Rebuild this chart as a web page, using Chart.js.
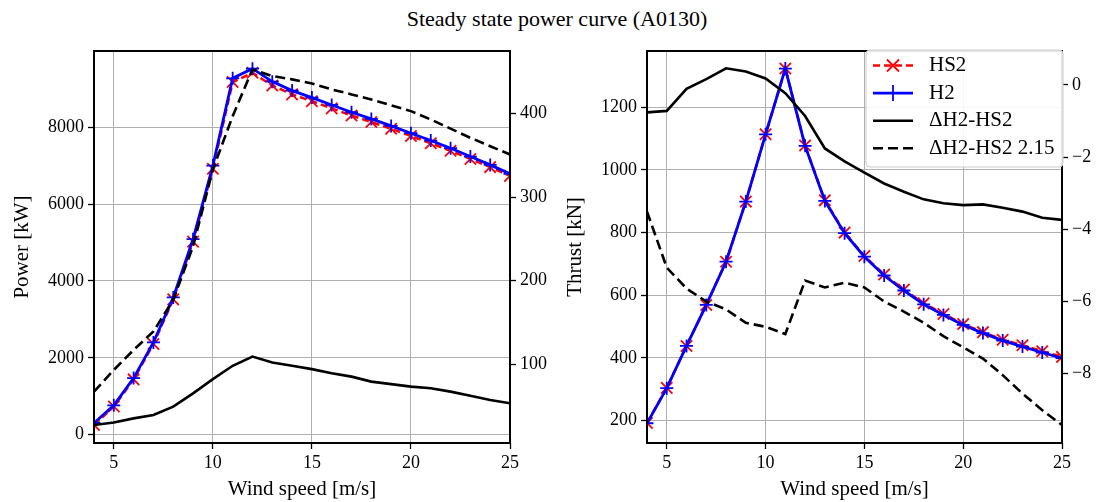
<!DOCTYPE html>
<html>
<head>
<meta charset="utf-8">
<title>Steady state power curve (A0130)</title>
<script src="https://cdn.jsdelivr.net/npm/chart.js@4"></script>
<style>
  body { margin: 0; background: #fff; }
  #fig { position: relative; width: 1103px; height: 502px; overflow: hidden; }
  #titre { position: absolute; left: 0; width: 1114px; top: 6px; line-height: 24px; text-align: center;
           font: 22px "Liberation Serif", serif; color: #000; }
  canvas { position: absolute; top: 0; }
</style>
</head>
<body>
<div id="fig">
  <div id="titre">Steady state power curve (A0130)</div>
  <canvas id="graphPower" width="555" height="502" style="left:0"></canvas>
  <canvas id="graphThrust" width="548" height="502" style="left:555px"></canvas>
</div>
<script>
/* DONNEES */
var vent = [4, 5, 6, 7, 8, 9, 10, 11, 12, 13, 14, 15, 16, 17, 18, 19, 20, 21, 22, 23, 24, 25];

var puissanceHS2 = [250, 733, 1438, 2361, 3521, 5023, 6921, 9176, 9416, 9085, 8855, 8677, 8491, 8305, 8138, 7959, 7772, 7583, 7387, 7175, 6963, 6734];
var puissanceH2 = [303, 763, 1473, 2400, 3570, 5088, 7003, 9274, 9525, 9187, 8953, 8771, 8580, 8390, 8217, 8035, 7845, 7654, 7454, 7237, 7020, 6787];
var deltaPuissance = [27, 30, 35, 39, 49, 65, 82, 98, 109, 102, 98, 94, 89, 85, 79, 76, 73, 71, 67, 62, 57, 53];
var deltaPuissance215 = [67, 93, 117, 139, 177, 241, 333, 397, 453, 445, 441, 436, 429, 423, 417, 410, 403, 393, 382, 371, 361, 351];

var pousseeHS2 = [192, 304, 438, 569, 707, 899, 1114, 1324, 1078, 903, 800, 725, 666, 618, 574, 540, 508, 482, 458, 440, 421, 403];
var pousseeH2 = [191, 303, 438, 569, 707, 899, 1114, 1324, 1077, 901, 798, 723, 663, 615, 571, 537, 505, 479, 455, 436, 417, 399];
var deltaPoussee = [-0.76, -0.72, -0.11, 0.16, 0.46, 0.37, 0.18, -0.23, -0.86, -1.76, -2.12, -2.43, -2.73, -2.96, -3.17, -3.28, -3.33, -3.31, -3.40, -3.51, -3.68, -3.74];
var deltaPoussee215 = [-3.51, -5.06, -5.64, -6.0, -6.22, -6.59, -6.70, -6.90, -5.42, -5.61, -5.48, -5.61, -6.0, -6.28, -6.59, -6.96, -7.27, -7.58, -8.04, -8.55, -9.01, -9.42];

var ticksVent = [5, 10, 15, 20, 25];
var ticksPuissance = [0, 2000, 4000, 6000, 8000];
var ticksDeltaPuissance = [100, 200, 300, 400];
var ticksPoussee = [200, 400, 600, 800, 1000, 1200];
var ticksDeltaPoussee = [0, -2, -4, -6, -8];


/* ---------------------------------------------------------------------- */

/* Outils */
var police = 'Liberation Serif';

function points(ys) {
    return vent.map(function(v, i) { return { x: v, y: ys[i] }; });
}

function fixerTicks(valeurs) {
    return function(s) { s.ticks = valeurs.map(function(v) { return { value: v }; }); };
}

function libelle(v) {
    return String(v).replace('-', '\u2212');
}

function axeX() {
    return {
        type: 'linear', min: 4, max: 25,
        afterBuildTicks: fixerTicks(ticksVent),
        afterFit: function(s) { s.height = 59; },
        grid: { color: '#b0b0b0', lineWidth: 1, tickColor: '#000', tickLength: 6, tickWidth: 1.3 },
        border: { display: false },
        ticks: { color: '#000', font: { family: police, size: 18 }, padding: 3, maxRotation: 0, autoSkip: false },
        title: { display: true, text: 'Wind speed [m/s]', color: '#000', font: { family: police, size: 21 }, padding: 0 }
    };
}

function axeGauche(min, max, valeurs, largeur, titre, pad) {
    return {
        type: 'linear', position: 'left', min: min, max: max,
        afterBuildTicks: fixerTicks(valeurs),
        afterFit: function(s) { s.width = largeur; },
        grid: { color: '#b0b0b0', lineWidth: 1, tickColor: '#000', tickLength: 6, tickWidth: 1.3 },
        border: { display: false },
        ticks: { color: '#000', font: { family: police, size: 18 }, padding: 4, callback: libelle },
        title: { display: true, text: titre, color: '#000', font: { family: police, size: 21 }, padding: { top: pad, bottom: 0 } }
    };
}

function axeDroit(min, max, valeurs, largeur) {
    return {
        type: 'linear', position: 'right', min: min, max: max,
        afterBuildTicks: fixerTicks(valeurs),
        afterFit: function(s) { s.width = largeur; },
        grid: { drawOnChartArea: false, tickColor: '#000', tickLength: 6, tickWidth: 1.3 },
        border: { display: false },
        ticks: { color: '#000', font: { family: police, size: 18 }, padding: 4, callback: libelle }
    };
}

function series(hs2, h2, d, d215) {
    return [
        { label: 'HS2', data: points(hs2), yAxisID: 'y', order: 4,
          borderColor: 'red', borderWidth: 2.6, borderDash: [7, 4],
          pointStyle: 'crossRot', pointRadius: 8, pointBorderWidth: 1.8, pointBorderColor: 'red', pointBackgroundColor: 'red' },
        { label: 'H2', data: points(h2), yAxisID: 'y', order: 3,
          borderColor: 'blue', borderWidth: 2.8,
          pointStyle: 'cross', pointRadius: 6.5, pointBorderWidth: 1.8, pointBorderColor: 'blue', pointBackgroundColor: 'blue' },
        { label: '\u0394H2-HS2', data: points(d), yAxisID: 'y2', order: 2,
          borderColor: '#000', borderWidth: 2.6, pointRadius: 0 },
        { label: '\u0394H2-HS2 2.15', data: points(d215), yAxisID: 'y2', order: 1,
          borderColor: '#000', borderWidth: 2.6, borderDash: [10, 5], pointRadius: 0 }
    ];
}

/* cadre noir autour de la zone de tracé */
var cadre = {
    id: 'cadre',
    afterDatasetsDraw: function(chart) {
        var a = chart.chartArea, ctx = chart.ctx;
        ctx.save();
        ctx.strokeStyle = '#000';
        ctx.lineWidth = 2;
        ctx.strokeRect(a.left, a.top, a.right - a.left, a.bottom - a.top);
        ctx.restore();
    }
};

/* légende dans le coin haut droit */
var legende = {
    id: 'legende',
    afterDraw: function(chart) {
        var a = chart.chartArea, ctx = chart.ctx;
        var x0 = a.right - 196, y0 = a.top - 1, w = 197, h = 117, r = 4;
        ctx.save();
        ctx.beginPath();
        ctx.moveTo(x0 + r, y0);
        ctx.arcTo(x0 + w, y0, x0 + w, y0 + h, r);
        ctx.arcTo(x0 + w, y0 + h, x0, y0 + h, r);
        ctx.arcTo(x0, y0 + h, x0, y0, r);
        ctx.arcTo(x0, y0, x0 + w, y0, r);
        ctx.closePath();
        ctx.fillStyle = 'rgba(255,255,255,0.9)';
        ctx.fill();
        ctx.strokeStyle = '#cccccc';
        ctx.lineWidth = 1;
        ctx.stroke();

        chart.data.datasets.forEach(function(ds, i) {
            var y = y0 + 15.5 + i * 27.6;
            var xa = x0 + 7, xb = x0 + 47, xm = x0 + 27;
            ctx.strokeStyle = ds.borderColor;
            ctx.lineWidth = ds.borderWidth;
            ctx.setLineDash(ds.borderDash || []);
            ctx.beginPath();
            ctx.moveTo(xa, y);
            ctx.lineTo(xb, y);
            ctx.stroke();
            ctx.setLineDash([]);
            ctx.lineWidth = 1.8;
            if (ds.pointStyle === 'crossRot') {
                ctx.beginPath();
                ctx.moveTo(xm - 6, y - 6); ctx.lineTo(xm + 6, y + 6);
                ctx.moveTo(xm - 6, y + 6); ctx.lineTo(xm + 6, y - 6);
                ctx.stroke();
            } else if (ds.pointStyle === 'cross') {
                ctx.beginPath();
                ctx.moveTo(xm - 8, y); ctx.lineTo(xm + 8, y);
                ctx.moveTo(xm, y - 8); ctx.lineTo(xm, y + 8);
                ctx.stroke();
            }
            ctx.fillStyle = '#000';
            ctx.font = '21px "' + police + '"';
            ctx.textBaseline = 'middle';
            ctx.textAlign = 'left';
            ctx.fillText(ds.label, x0 + 63, y);
        });
        ctx.restore();
    }
};

function options(scales) {
    return {
        responsive: false,
        animation: false,
        devicePixelRatio: 1,
        layout: { padding: { top: 51, left: 0, right: 0, bottom: 0 } },
        elements: { line: { tension: 0 } },
        plugins: { legend: { display: false }, tooltip: { enabled: false } },
        scales: scales
    };
}


/* ---------------------------------------------------------------------- */

/* Graphique puissance */
var graphPower = document.getElementById('graphPower').getContext('2d');
var chartPower = new Chart(graphPower, {
    type: 'line',
    data: { datasets: series(puissanceHS2, puissanceH2, deltaPuissance, deltaPuissance215) },
    options: options({
        x: axeX(),
        y: axeGauche(-217, 9984, ticksPuissance, 94, 'Power [kW]', 10),
        y2: axeDroit(5.5, 475, ticksDeltaPuissance, 45)
    }),
    plugins: [cadre]
});

/* Graphique poussée */
var graphThrust = document.getElementById('graphThrust').getContext('2d');
var chartThrust = new Chart(graphThrust, {
    type: 'line',
    data: { datasets: series(pousseeHS2, pousseeH2, deltaPoussee, deltaPoussee215) },
    options: options({
        x: axeX(),
        y: axeGauche(128, 1380, ticksPoussee, 92, 'Thrust [kN]', 8),
        y2: axeDroit(-9.92, 0.94, ticksDeltaPoussee, 41)
    }),
    plugins: [cadre, legende]
});
</script>
</body>
</html>
